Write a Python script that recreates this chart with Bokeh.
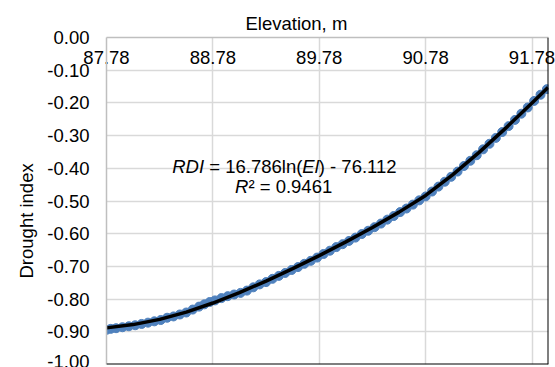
from bokeh.plotting import figure
from bokeh.models import FixedTicker, Span, Label, Title
from bokeh.embed import file_html
from bokeh.resources import INLINE

# ---- data ----
elev = [87.78, 87.82, 87.87, 87.93, 87.99, 88.05, 88.11, 88.17, 88.23, 88.29,
        88.35, 88.41, 88.47, 88.53, 88.59, 88.65, 88.70, 88.75, 88.80, 88.86,
        88.92, 88.98, 89.04, 89.10, 89.16, 89.22, 89.28, 89.34, 89.40, 89.46,
        89.52, 89.58, 89.64, 89.70, 89.76, 89.82, 89.88, 89.94, 90.00, 90.06,
        90.12, 90.18, 90.24, 90.30, 90.36, 90.42, 90.48, 90.54, 90.60, 90.66,
        90.72, 90.78, 90.84, 90.90, 90.96, 91.02, 91.08, 91.14, 91.20, 91.26,
        91.32, 91.38, 91.44, 91.50, 91.56, 91.62, 91.68, 91.74, 91.80, 91.86,
        91.92]
rdi = [-0.894, -0.891, -0.889, -0.886, -0.883, -0.880, -0.876, -0.872, -0.868, -0.864,
       -0.857, -0.853, -0.847, -0.841, -0.832, -0.823, -0.816, -0.809, -0.804, -0.797,
       -0.791, -0.786, -0.781, -0.774, -0.764, -0.755, -0.748, -0.738, -0.729, -0.720,
       -0.711, -0.702, -0.692, -0.683, -0.673, -0.662, -0.652, -0.641, -0.632, -0.622,
       -0.612, -0.601, -0.591, -0.580, -0.569, -0.557, -0.546, -0.534, -0.523, -0.511,
       -0.498, -0.486, -0.471, -0.456, -0.441, -0.426, -0.410, -0.393, -0.377, -0.360,
       -0.342, -0.325, -0.307, -0.289, -0.271, -0.252, -0.233, -0.214, -0.194, -0.175,
       -0.158]

trend_elev = [87.78, 88.03, 88.28, 88.53, 88.78, 89.03, 89.28, 89.53, 89.78, 90.03,
              90.28, 90.53, 90.78, 91.03, 91.28, 91.53, 91.78, 91.93]
trend_rdi = [-0.888, -0.878, -0.862, -0.840, -0.812, -0.780, -0.745, -0.707, -0.667, -0.625,
             -0.581, -0.534, -0.483, -0.421, -0.352, -0.278, -0.200, -0.153]

x_ticks = [87.78, 88.78, 89.78, 90.78, 91.78]
x_tick_labels = ["87.78", "88.78", "89.78", "90.78", "91.78"]
y_ticks = [0.0, -0.1, -0.2, -0.3, -0.4, -0.5, -0.6, -0.7, -0.8, -0.9, -1.0]
y_tick_labels = ["0.00", "-0.10", "-0.20", "-0.30", "-0.40", "-0.50",
                 "-0.60", "-0.70", "-0.80", "-0.90", "-1.00"]

x_title = "Elevation, m"
y_title = "Drought index"

FONT = "Liberation Sans"
FS = "18.5px"
X0, X1 = 87.78, 91.935
GRID = "#D9D9D9"
AXIS = "#BFBFBF"

p = figure(width=555, height=367, x_range=(X0, X1), y_range=(-1.0, 0.0),
           x_axis_location="above", y_axis_location="left",
           min_border_left=106, min_border_right=7, min_border_top=37, min_border_bottom=3,
           output_backend="svg", toolbar_location=None)
p.outline_line_color = None
p.background_fill_color = "white"
p.border_fill_color = "white"

# axes
xa = p.xaxis[0]
xa.ticker = FixedTicker(ticks=x_ticks)
xa.major_label_overrides = dict(zip(x_ticks, x_tick_labels))
ya = p.yaxis[0]
ya.ticker = FixedTicker(ticks=y_ticks)
ya.major_label_overrides = dict(zip(y_ticks, y_tick_labels))
for ax in (xa, ya):
    ax.major_tick_out = 0
    ax.major_tick_in = 0
    ax.minor_tick_out = 0
    ax.minor_tick_in = 0
    ax.major_label_text_font = FONT
    ax.major_label_text_font_size = FS
    ax.major_label_text_color = "black"
    ax.axis_line_color = AXIS
    ax.axis_line_width = 1.5
ya.major_label_standoff = 17
xa.major_label_standoff = -26

# grids
for g, t in ((p.xgrid, x_ticks), (p.ygrid, y_ticks)):
    g.ticker = FixedTicker(ticks=t)
    g.grid_line_color = GRID
    g.grid_line_width = 1.5

# plot-area border (bottom and right)
p.add_layout(Span(location=-1.0, dimension="width", line_color="black", line_width=2))
p.add_layout(Span(location=X1, dimension="height", line_color="black", line_width=2))

# data
p.scatter(elev, rdi, size=9, fill_color="#4F81BD", line_color="#4F81BD")
p.line(trend_elev, trend_rdi, line_color="black", line_width=3.5)

# titles
p.add_layout(Title(text=x_title, align="left", offset=139, standoff=8,
                   text_font=FONT, text_font_size=FS, text_font_style="normal",
                   text_color="black"), "above")
p.add_layout(Title(text=y_title, align="left", offset=86, standoff=15,
                   text_font=FONT, text_font_size=FS, text_font_style="normal",
                   text_color="black"), "left")

# equation annotation
ex, ey = 88.398, -0.3945
pieces = [("RDI", "italic", 0.0), ("= 16.786ln(", "normal", 37.0),
          ("El", "italic", 130.1), (") - 76.112", "normal", 146.5)]
for t, st, off in pieces:
    p.add_layout(Label(x=ex, y=ey, x_offset=off, text=t, text_align="left",
                       text_baseline="alphabetic", text_font=FONT, text_font_size=FS,
                       text_font_style=st, text_color="black"))
rx, ry = 88.988, -0.4552
for t, st, off in [("R", "italic", 0.0), ("\u00b2 = 0.9461", "normal", 13.4)]:
    p.add_layout(Label(x=rx, y=ry, x_offset=off, text=t, text_align="left",
                       text_baseline="alphabetic", text_font=FONT, text_font_size=FS,
                       text_font_style=st, text_color="black"))

open("out.html", "w").write(file_html(p, INLINE))
